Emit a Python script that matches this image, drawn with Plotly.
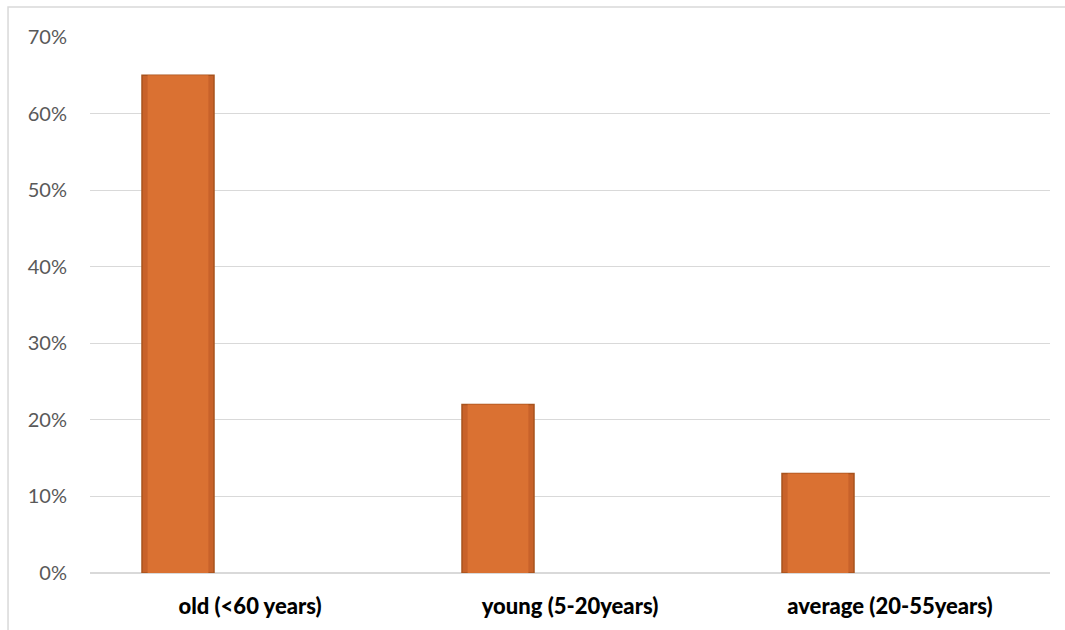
import plotly.graph_objects as go

categories = ["old (<60 years)", "young (5-20years)", "average (20-55years)"]
values = [0.65, 0.22, 0.13]
y_ticks = [0, 0.1, 0.2, 0.3, 0.4, 0.5, 0.6, 0.7]
y_tick_labels = ["0%", "10%", "20%", "30%", "40%", "50%", "60%", "70%"]

fig = go.Figure()
fig.add_trace(go.Bar(
    x=categories, y=values,
    width=0.225, offset=-0.3375,
    marker=dict(color="#C8622A", line=dict(color="#A8531D", width=1.5)),
    showlegend=False,
))
# inner face to suggest the bevel
fig.add_trace(go.Bar(
    x=categories, y=values,
    width=0.19, offset=-0.32,
    marker=dict(color="#DA7132", line=dict(width=0)),
    showlegend=False, hoverinfo="skip",
))

fig.update_layout(
    width=1065, height=630,
    margin=dict(l=90, r=15, t=37, b=57),
    paper_bgcolor="white", plot_bgcolor="white",
    barmode="overlay",
    xaxis=dict(
        type="category", range=[-0.5, 2.5],
        showgrid=False, showline=False, zeroline=False,
        ticks="", ticklabelstandoff=18,
        tickfont=dict(family="Lato", size=22, color="#000000", weight=900),
    ),
    yaxis=dict(
        range=[0, 0.7], tickvals=y_ticks, ticktext=y_tick_labels,
        showgrid=True, gridcolor="#D9D9D9", gridwidth=1,
        zeroline=True, zerolinecolor="#D9D9D9", zerolinewidth=1.5,
        showline=False, ticks="",
        ticklabelstandoff=22,
        tickfont=dict(family="Lato", size=20, color="#595959"),
    ),
    shapes=[dict(
        type="rect", xref="paper", yref="paper",
        x0=-0.0854, x1=1.2, y0=-0.3, y1=1.056,
        line=dict(color="#D9D9D9", width=1.5), fillcolor="rgba(0,0,0,0)",
        layer="below",
    )],
)

fig.write_html("out.html")
